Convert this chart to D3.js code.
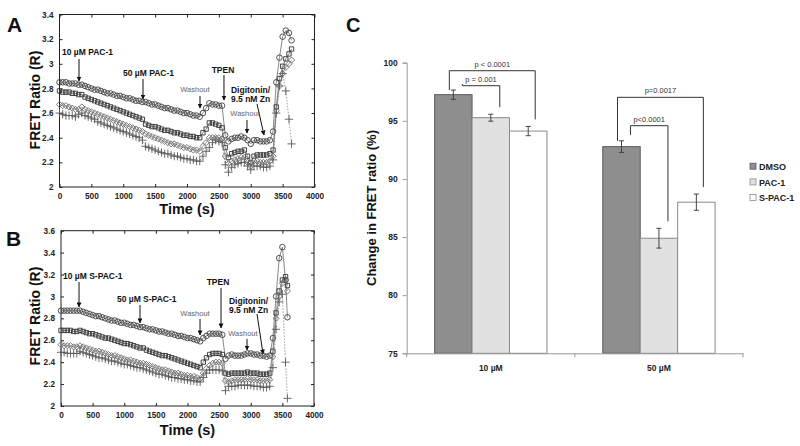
<!DOCTYPE html>
<html><head><meta charset="utf-8">
<script src="https://cdn.jsdelivr.net/npm/d3@7"></script>
<style>body{margin:0;background:#fff}svg{display:block}text{font-family:"Liberation Sans",Arial,sans-serif}</style>
</head><body>
<script>
// ---------- Panel A data (time in s, FRET ratio) ----------
const timesA = [0,50,100,150,200,250,300,350,400,450,500,550,600,650,700,750,800,850,900,950,1000,1050,1100,1150,1200,1250,1300,1350,1400,1450,1500,1550,1600,1650,1700,1750,1800,1850,1900,1950,2000,2050,2100,2150,2200,2250,2300,2350,2400,2450,2500,2550,2600,2650,2700,2750,2800,2850,2900,2950,3000,3050,3100,3150,3200,3250,3300,3350,3400,3450,3500,3550,3600,3640];
const a1 = [2.85,2.85,2.85,2.84,2.84,2.84,2.83,2.83,2.82,2.81,2.80,2.79,2.79,2.78,2.77,2.76,2.76,2.75,2.74,2.74,2.73,2.72,2.72,2.71,2.70,2.70,2.69,2.69,2.68,2.67,2.67,2.66,2.65,2.64,2.64,2.63,2.62,2.62,2.61,2.60,2.60,2.59,2.58,2.58,2.57,2.60,2.64,2.68,2.67,2.67,2.66,2.66,2.42,2.37,2.39,2.40,2.40,2.41,2.40,2.38,2.35,2.38,2.38,2.37,2.37,2.37,2.38,2.45,2.85,3.05,3.22,3.27,3.25,3.19];
const a2 = [2.78,2.77,2.77,2.77,2.76,2.76,2.75,2.75,2.73,2.72,2.71,2.70,2.69,2.68,2.67,2.66,2.65,2.64,2.63,2.62,2.61,2.60,2.59,2.58,2.57,2.56,2.55,2.51,2.50,2.49,2.49,2.48,2.47,2.46,2.46,2.45,2.44,2.44,2.43,2.42,2.42,2.41,2.41,2.40,2.40,2.44,2.47,2.52,2.52,2.51,2.50,2.48,2.32,2.24,2.27,2.28,2.29,2.29,2.30,2.25,2.20,2.25,2.26,2.26,2.26,2.26,2.27,2.30,2.65,2.88,2.98,3.04,3.08,3.12];
const a3 = [2.67,2.66,2.66,2.65,2.64,2.63,2.63,2.65,2.63,2.62,2.61,2.60,2.59,2.58,2.57,2.56,2.55,2.54,2.53,2.52,2.51,2.50,2.49,2.48,2.47,2.46,2.45,2.43,2.42,2.41,2.40,2.39,2.38,2.37,2.36,2.35,2.35,2.34,2.33,2.32,2.32,2.31,2.30,2.30,2.29,2.33,2.36,2.40,2.40,2.40,2.40,2.39,2.25,2.19,2.21,2.22,2.23,2.24,2.24,2.20,2.17,2.21,2.21,2.20,2.20,2.20,2.21,2.25,2.62,2.82,2.92,2.97,3.00,3.03];
const a4 = [2.60,2.59,2.58,2.58,2.58,2.57,2.59,2.60,2.58,2.57,2.56,2.55,2.53,2.52,2.51,2.50,2.49,2.48,2.47,2.46,2.45,2.44,2.43,2.42,2.41,2.40,2.38,2.33,2.32,2.31,2.30,2.29,2.28,2.27,2.27,2.26,2.25,2.25,2.24,2.23,2.23,2.22,2.22,2.21,2.21,2.25,2.29,2.32,2.36,2.38,2.37,2.36,2.18,2.12,2.16,2.18,2.19,2.20,2.20,2.17,2.14,2.17,2.17,2.17,2.16,2.16,2.17,2.22,2.60,2.82,2.92,2.78,2.55,2.35];
const ticksAX = [0,500,1000,1500,2000,2500,3000,3500,4000];
const ticksAY = [2,2.2,2.4,2.6,2.8,3,3.2,3.4];

// ---------- Panel B data ----------
const timesB = [0,50,100,150,200,250,300,350,400,450,500,550,600,650,700,750,800,850,900,950,1000,1050,1100,1150,1200,1250,1300,1350,1400,1450,1500,1550,1600,1650,1700,1750,1800,1850,1900,1950,2000,2050,2100,2150,2200,2250,2300,2350,2400,2450,2500,2550,2600,2650,2700,2750,2800,2850,2900,2950,3000,3050,3100,3150,3200,3250,3300,3350,3400,3450,3500,3550,3580];
const b1 = [2.87,2.87,2.87,2.87,2.87,2.87,2.87,2.86,2.85,2.84,2.83,2.82,2.82,2.81,2.80,2.79,2.78,2.78,2.77,2.76,2.76,2.75,2.74,2.74,2.73,2.72,2.72,2.71,2.70,2.70,2.69,2.68,2.68,2.67,2.66,2.66,2.65,2.64,2.64,2.63,2.62,2.62,2.61,2.60,2.59,2.62,2.64,2.66,2.66,2.66,2.66,2.65,2.43,2.46,2.47,2.46,2.46,2.46,2.47,2.48,2.48,2.47,2.47,2.46,2.46,2.45,2.46,2.62,3.00,3.35,3.45,3.15,2.81];
const b2 = [2.69,2.69,2.69,2.69,2.68,2.68,2.69,2.68,2.67,2.66,2.66,2.65,2.64,2.63,2.62,2.62,2.61,2.60,2.59,2.58,2.57,2.57,2.56,2.55,2.54,2.53,2.53,2.51,2.50,2.49,2.48,2.47,2.46,2.46,2.45,2.44,2.43,2.42,2.41,2.40,2.39,2.38,2.37,2.36,2.35,2.40,2.44,2.47,2.48,2.48,2.48,2.47,2.30,2.29,2.30,2.30,2.30,2.30,2.30,2.31,2.30,2.30,2.30,2.29,2.29,2.29,2.30,2.50,2.85,3.05,3.15,3.18,3.10];
const b3 = [2.56,2.55,2.55,2.55,2.54,2.54,2.55,2.54,2.53,2.52,2.51,2.50,2.50,2.49,2.48,2.47,2.46,2.46,2.45,2.44,2.43,2.42,2.42,2.41,2.40,2.39,2.39,2.38,2.37,2.36,2.35,2.34,2.33,2.33,2.32,2.31,2.30,2.30,2.29,2.28,2.28,2.27,2.27,2.26,2.25,2.30,2.34,2.37,2.39,2.40,2.40,2.39,2.23,2.22,2.23,2.24,2.24,2.24,2.24,2.25,2.24,2.24,2.24,2.23,2.23,2.23,2.24,2.45,2.80,3.00,3.12,3.15,3.05];
const b4 = [2.49,2.49,2.48,2.48,2.48,2.48,2.50,2.49,2.48,2.47,2.46,2.45,2.44,2.44,2.43,2.42,2.41,2.41,2.40,2.39,2.38,2.38,2.37,2.36,2.35,2.35,2.34,2.33,2.32,2.31,2.30,2.29,2.29,2.28,2.27,2.26,2.26,2.25,2.25,2.24,2.24,2.23,2.23,2.22,2.22,2.26,2.30,2.33,2.33,2.33,2.33,2.32,2.14,2.18,2.18,2.18,2.19,2.19,2.19,2.19,2.19,2.18,2.18,2.18,2.17,2.17,2.18,2.35,2.70,2.95,3.02,2.40,2.07];
const ticksBX = [0,500,1000,1500,2000,2500,3000,3500,4000];
const ticksBY = [2,2.2,2.4,2.6,2.8,3,3.2,3.4,3.6];

// annotations: [label lines], text anchor time/value, arrow from/to (time,value)
const annotA = [
  {lines:["10 µM PAC-1"], bold:true, anchor:"start", t:39, v:3.071, a:[306,3.039,306,2.860]},
  {lines:["50 µM PAC-1"], bold:true, anchor:"start", t:996, v:2.901, a:[1310,2.877,1310,2.714]},
  {lines:["Washout"], bold:false, anchor:"middle", t:2125, v:2.771, a:[2204,2.739,2204,2.641]},
  {lines:["TPEN"], bold:true, anchor:"middle", t:2565, v:2.925, a:[2580,2.909,2580,2.706]},
  {lines:["Digitonin/","9.5 nM Zn"], bold:true, anchor:"start", t:2690, v:2.763, a:[3098,2.674,3208,2.422]},
  {lines:["Washout"], bold:false, anchor:"middle", t:2910, v:2.576, a:[2941,2.544,2941,2.438]}
];
const annotB = [
  {lines:["10 µM S-PAC-1"], bold:true, anchor:"start", t:32, v:3.159, a:[285,3.132,285,2.904]},
  {lines:["50 µM S-PAC-1"], bold:true, anchor:"start", t:885, v:2.949, a:[1249,2.922,1249,2.758]},
  {lines:["Washout"], bold:false, anchor:"middle", t:2119, v:2.822, a:[2198,2.795,2198,2.649]},
  {lines:["TPEN"], bold:true, anchor:"middle", t:2482, v:3.105, a:[2530,3.078,2530,2.712]},
  {lines:["Digitonin/","9.5 nM Zn"], bold:true, anchor:"start", t:2656, v:2.931, a:[3099,2.840,3194,2.475]},
  {lines:["Washout"], bold:false, anchor:"middle", t:2877, v:2.639, a:[2941,2.612,2941,2.511]}
];

// ---------- Panel C data ----------
const categories = ["10 µM","50 µM"];
const seriesNames = ["DMSO","PAC-1","S-PAC-1"];
const dmso = [97.25, 92.78];
const pac1 = [95.27, 84.90];
const spac1 = [94.12, 88.00];
const dmsoErr = [0.40, 0.50];
const pac1Err = [0.30, 0.85];
const spac1Err = [0.40, 0.70];
const ticksC = [75,80,85,90,95,100];
const sigTests = [
  {cat:"10 µM", a:"DMSO", b:"S-PAC-1", level:99.31, label:"p < 0.0001", outer:true},
  {cat:"10 µM", a:"DMSO", b:"PAC-1", level:98.02, label:"p = 0.001", outer:false},
  {cat:"50 µM", a:"DMSO", b:"S-PAC-1", level:97.02, label:"p=0.0017", outer:true},
  {cat:"50 µM", a:"DMSO", b:"PAC-1", level:94.58, label:"p<0.0001", outer:false}
];

const W = 800, H = 446;
const svg = d3.select("body").append("svg").attr("width", W).attr("height", H);
svg.append("rect").attr("width", W).attr("height", H).attr("fill", "#fff");
const defs = svg.append("defs");
defs.append("marker").attr("id","arr").attr("viewBox","0 0 10 10").attr("refX",9).attr("refY",5)
  .attr("markerWidth",5).attr("markerHeight",5).attr("orient","auto")
  .append("path").attr("d","M0,0 L10,5 L0,10 z").attr("fill","#111");

function tracePanel(cfg) {
  const x = d3.scaleLinear().domain([0,4000]).range([cfg.x0, cfg.x1]);
  const y = d3.scaleLinear().domain(cfg.yDomain).range([cfg.y1, cfg.y0]);
  const g = svg.append("g");
  g.append("rect").attr("x",cfg.x0).attr("y",cfg.y0).attr("width",cfg.x1-cfg.x0).attr("height",cfg.y1-cfg.y0)
    .attr("fill","none").attr("stroke","#222").attr("stroke-width",1);
  const tickLen = 3;
  const ax = d3.axisBottom(x).tickValues(cfg.ticksX).tickSize(-tickLen).tickPadding(6).tickFormat(d3.format("d"));
  const gx = g.append("g").attr("transform",`translate(0,${cfg.y1})`).call(ax);
  const ay = d3.axisLeft(y).tickValues(cfg.ticksY).tickSize(-tickLen).tickPadding(6).tickFormat(d => d3.format("")(+d.toFixed(1)));
  const gy = g.append("g").attr("transform",`translate(${cfg.x0},0)`).call(ay);
  const axT = d3.axisTop(x).tickValues(cfg.ticksX).tickSize(-tickLen).tickFormat("");
  const gt = g.append("g").attr("transform",`translate(0,${cfg.y0})`).call(axT);
  const ayR = d3.axisRight(y).tickValues(cfg.ticksY).tickSize(-tickLen).tickFormat("");
  const gr = g.append("g").attr("transform",`translate(${cfg.x1},0)`).call(ayR);
  [gx,gy,gt,gr].forEach(s => { s.select(".domain").remove(); s.selectAll("line").attr("stroke","#222"); });
  [gx,gy].forEach(s => s.selectAll("text").attr("font-size",8.2).attr("font-weight","bold").attr("fill","#222")
     .style("font-family",'"Liberation Sans",Arial,sans-serif'));
  const styles = [
    {sym:d3.symbolCircle, color:"#3e3e3e", line:"#555", dash:null},
    {sym:d3.symbolSquare2, color:"#333", line:"#555", dash:null},
    {sym:d3.symbolDiamond2, color:"#6a6a6a", line:"#777", dash:null},
    {sym:d3.symbolPlus, color:"#5a5a5a", line:"#777", dash:"1.5,1.5"}
  ];
  cfg.series.forEach((vals, si) => {
    const st = styles[si];
    const pts = cfg.times.map((t,i)=>[t, vals[i]]);
    const line = d3.line().x(d=>x(d[0])).y(d=>y(d[1]));
    g.append("path").attr("d", line(pts)).attr("fill","none").attr("stroke",st.line).attr("stroke-width",0.7)
      .attr("stroke-dasharray", st.dash);
    g.selectAll(null).data(pts).enter().append("path")
      .attr("transform", d=>`translate(${x(d[0])},${y(d[1])})`)
      .attr("d", d3.symbol().type(st.sym).size(24))
      .attr("fill", "none").attr("stroke", st.color).attr("stroke-width", 0.9);
  });
  cfg.annot.forEach(a => {
    a.lines.forEach((ln, li) => {
      g.append("text").attr("x", x(a.t)).attr("y", y(a.v) + li*9).attr("text-anchor", a.anchor)
        .attr("font-size", a.bold ? 8.5 : 7.5).attr("font-weight", a.bold ? "bold" : "normal")
        .attr("fill", a.bold ? "#111" : "#666").text(ln);
    });
    g.append("line").attr("x1", x(a.a[0])).attr("y1", y(a.a[1])).attr("x2", x(a.a[2])).attr("y2", y(a.a[3]))
      .attr("stroke","#111").attr("stroke-width",1).attr("marker-end","url(#arr)");
  });
  g.append("text").attr("x",(cfg.x0+cfg.x1)/2).attr("y",cfg.y1+ cfg.titleDy).attr("text-anchor","middle")
    .attr("font-size",14.5).attr("font-weight","bold").attr("fill","#111").text("Time (s)");
  g.append("text").attr("transform",`translate(${cfg.ylabX},${cfg.ylabY}) rotate(-90)`).attr("text-anchor","middle")
    .attr("font-size",14).attr("font-weight","bold").attr("fill","#111").text("FRET Ratio (R)");
  g.append("text").attr("x",cfg.letterX).attr("y",cfg.letterY).attr("font-size",21).attr("font-weight","bold")
    .attr("fill","#111").text(cfg.letter);
}

tracePanel({x0:59.5, x1:314.5, y0:14.5, y1:187, yDomain:[2,3.4], ticksX:ticksAX, ticksY:ticksAY,
  times:timesA, series:[a1,a2,a3,a4], annot:annotA, titleDy:27, ylabX:40, ylabY:100, letter:"A", letterX:7, letterY:32});
tracePanel({x0:61, x1:314, y0:230.7, y1:406, yDomain:[2,3.6], ticksX:ticksBX, ticksY:ticksBY,
  times:timesB, series:[b1,b2,b3,b4], annot:annotB, titleDy:29, ylabX:40, ylabY:316, letter:"B", letterX:6, letterY:246});

// ---------- Panel C ----------
(function(){
  const left = 406.7, right = 743, top = 62.7, bottom = 353.3;
  const x0 = d3.scaleBand().domain(categories).range([left, right]).paddingInner(0).paddingOuter(0);
  const x1 = d3.scaleBand().domain(seriesNames).range([0, x0.bandwidth()]).paddingInner(0).paddingOuter(0.746);
  const y = d3.scaleLinear().domain([75,100]).range([bottom, top]);
  const g = svg.append("g");
  const vals = {"DMSO":dmso, "PAC-1":pac1, "S-PAC-1":spac1};
  const errs = {"DMSO":dmsoErr, "PAC-1":pac1Err, "S-PAC-1":spac1Err};
  const fills = {"DMSO":"#8e8e8e", "PAC-1":"#e1e1e1", "S-PAC-1":"#ffffff"};
  const strokes = {"DMSO":"#5a5a5a", "PAC-1":"#8a8a8a", "S-PAC-1":"#8a8a8a"};

  const ay = d3.axisLeft(y).tickValues(ticksC).tickSize(4).tickPadding(5);
  const gy = g.append("g").attr("transform",`translate(${left},0)`).call(ay);
  gy.select(".domain").attr("stroke","#999");
  gy.selectAll("line").attr("stroke","#999");
  gy.selectAll("text").attr("font-size",8.5).attr("font-weight","bold").attr("fill","#222")
    .style("font-family",'"Liberation Sans",Arial,sans-serif');

  const data = [];
  categories.forEach((c, ci) => seriesNames.forEach(s => data.push({c, s, v: vals[s][ci], e: errs[s][ci]})));
  g.selectAll(null).data(data).enter().append("rect")
    .attr("x", d => x0(d.c) + x1(d.s)).attr("width", x1.bandwidth())
    .attr("y", d => y(d.v)).attr("height", d => bottom - y(d.v))
    .attr("fill", d => fills[d.s]).attr("stroke", d => strokes[d.s]).attr("stroke-width", 1);
  const eb = g.selectAll(null).data(data).enter().append("g")
    .attr("transform", d => `translate(${x0(d.c) + x1(d.s) + x1.bandwidth()/2},0)`);
  eb.append("line").attr("y1", d=>y(d.v - d.e)).attr("y2", d=>y(d.v + d.e)).attr("stroke","#444");
  eb.append("line").attr("x1",-2.5).attr("x2",2.5).attr("y1", d=>y(d.v - d.e)).attr("y2", d=>y(d.v - d.e)).attr("stroke","#444");
  eb.append("line").attr("x1",-2.5).attr("x2",2.5).attr("y1", d=>y(d.v + d.e)).attr("y2", d=>y(d.v + d.e)).attr("stroke","#444");

  const ax = d3.axisBottom(x0).tickSize(0).tickPadding(12);
  const gx = g.append("g").attr("transform",`translate(0,${bottom})`).call(ax);
  gx.select(".domain").attr("stroke","#999");
  gx.selectAll("text").attr("font-size",8.5).attr("font-weight","bold").attr("fill","#222")
    .style("font-family",'"Liberation Sans",Arial,sans-serif');
  [left, left + x0.step(), right].forEach(px => g.append("line").attr("x1",px).attr("x2",px)
    .attr("y1",bottom).attr("y2",bottom+4).attr("stroke","#999"));

  sigTests.forEach(st => {
    const ci = categories.indexOf(st.cat);
    const cx = s => x0(st.cat) + x1(s) + x1.bandwidth()/2;
    const xa = cx(st.a) + (st.outer ? -4 : 9);
    const xb = cx(st.b) + (st.outer ? 7 : 9);
    const ya = y(vals[st.a][ci] + errs[st.a][ci]) - (st.outer ? 0 : 6);
    const yb = y(vals[st.b][ci] + errs[st.b][ci]) - 7;
    const yl = y(st.level);
    g.append("path").attr("d", `M${xa},${ya} V${yl} H${xb} V${yb}`).attr("fill","none")
      .attr("stroke","#333").attr("stroke-width",1);
    g.append("text").attr("x",(xa+xb)/2).attr("y",yl-4).attr("text-anchor","middle")
      .attr("font-size",7.5).attr("fill","#333").text(st.label);
  });

  g.append("text").attr("transform",`translate(376,208) rotate(-90)`).attr("text-anchor","middle")
    .attr("font-size",13).attr("font-weight","bold").attr("fill","#111").text("Change in FRET ratio (%)");
  const lg = g.append("g").attr("transform","translate(750,166.7)");
  seriesNames.forEach((s, i) => {
    const row = lg.append("g").attr("transform",`translate(0,${i*15.7})`);
    row.append("rect").attr("x",0).attr("y",-3.5).attr("width",6).attr("height",6)
      .attr("fill",fills[s]).attr("stroke",strokes[s]).attr("stroke-width",0.8);
    row.append("text").attr("x",9).attr("y",3.3).attr("font-size",9).attr("font-weight","bold")
      .attr("fill","#222").text(s);
  });
  g.append("text").attr("x",346).attr("y",32).attr("font-size",20).attr("font-weight","bold").attr("fill","#111").text("C");
})();
</script>
</body></html>
